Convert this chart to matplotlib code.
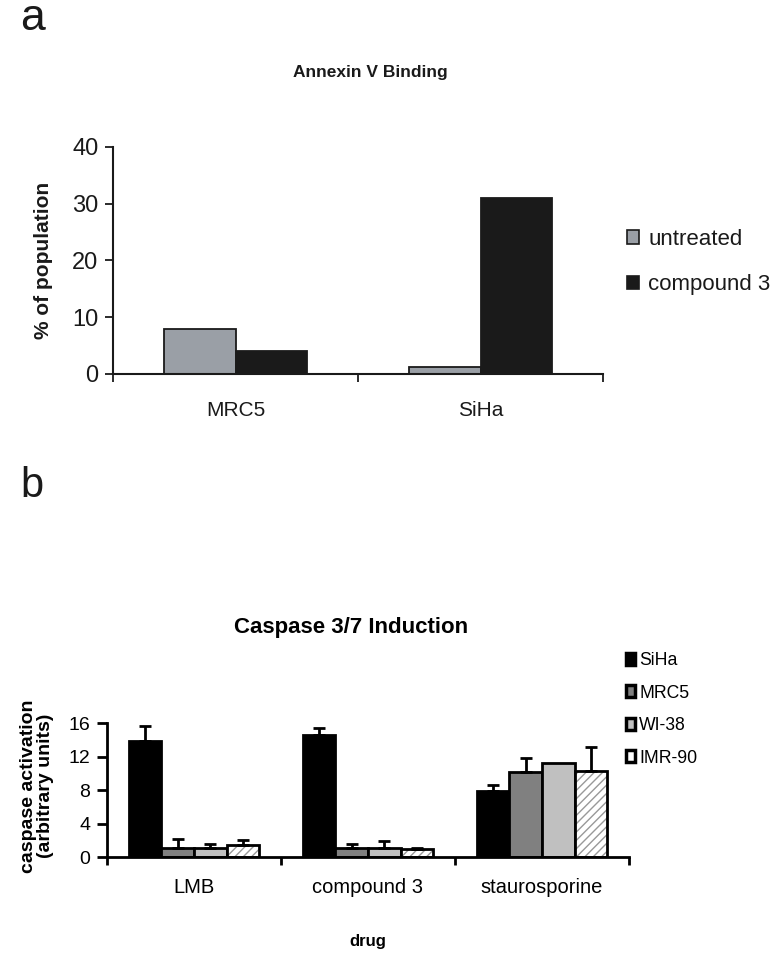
import numpy as np
import matplotlib
matplotlib.use("Agg")
import matplotlib.pyplot as plt
from matplotlib.patches import Patch

plt.rcParams['font.family'] = ['Liberation Sans', 'DejaVu Sans']

# panel a data
cells_a = ['MRC5', 'SiHa']
untreated = [8.0, 1.2]
compound3 = [4.0, 31.0]

# panel b data
drugs = ['LMB', 'compound 3', 'staurosporine']
lines_b = ['SiHa', 'MRC5', 'WI-38', 'IMR-90']
vals_b = {
    'SiHa':   [13.8, 14.6, 7.9],
    'MRC5':   [1.1, 1.1, 10.2],
    'WI-38':  [1.1, 1.1, 11.2],
    'IMR-90': [1.4, 0.9, 10.3],
}
errs_b = {
    'SiHa':   [1.8, 0.8, 0.7],
    'MRC5':   [1.0, 0.5, 1.6],
    'WI-38':  [0.5, 0.8, np.nan],
    'IMR-90': [0.6, 0.15, 2.8],
}

fig = plt.figure(figsize=(7.8, 9.63), dpi=100)

# ---------- panel a ----------
ax1 = fig.add_axes([113/780, 1-374/963, 490/780, 227/963])
x = np.arange(len(cells_a))
w = 0.29
ax1.bar(x - w/2, untreated, w, color='#9a9fa6', edgecolor='#1a1a1a', lw=1.3)
ax1.bar(x + w/2, compound3, w, color='#1a1a1a', edgecolor='#1a1a1a', lw=1.3)
ax1.set_xlim(-0.5, 1.5)
ax1.set_ylim(0, 40)
ax1.set_yticks([0, 10, 20, 30, 40])
ax1.set_xticks([-0.5, 0.5, 1.5])
ax1.set_xticklabels([])
ax1.tick_params(axis='y', labelsize=17, length=5.5, width=1.3, colors='#1a1a1a', pad=5)
ax1.tick_params(axis='x', length=6, width=1.3, colors='#1a1a1a')
for i, c in enumerate(cells_a):
    ax1.text(x[i], -6.5, c, ha='center', va='center', fontsize=15, color='#1a1a1a')
for s in ['top', 'right']:
    ax1.spines[s].set_visible(False)
for s in ['left', 'bottom']:
    ax1.spines[s].set_linewidth(1.5)
    ax1.spines[s].set_color('#1a1a1a')
ax1.set_ylabel('% of population', fontsize=15, fontweight='bold', labelpad=14, color='#1a1a1a')
fig.text(370/780, 1-72/963, 'Annexin V Binding', ha='center', va='center',
         fontsize=12.5, fontweight='bold', color='#1a1a1a')
fig.legend(handles=[Patch(facecolor='#9a9fa6', edgecolor='#1a1a1a', lw=1.2),
                    Patch(facecolor='#1a1a1a', edgecolor='#1a1a1a', lw=1.2)],
           labels=['untreated', 'compound 3'], loc='upper left',
           bbox_to_anchor=(627/780, 1-229/963), frameon=False, fontsize=16,
           handlelength=0.55, handleheight=0.55, handletextpad=0.4,
           labelspacing=1.1, borderpad=0, borderaxespad=0, labelcolor='#1a1a1a')

fig.text(20/780, 1-19/963, 'a', fontsize=32, ha='left', va='center', color='#1a1a1a')
fig.text(20/780, 1-486/963, 'b', fontsize=30, ha='left', va='center', color='#1a1a1a')

# ---------- panel b ----------
ax2 = fig.add_axes([107/780, 1-857/963, 522/780, 134/963])
xb = np.arange(len(drugs))
wb = 0.187
colors_b = {'SiHa': 'black', 'MRC5': '#808080', 'WI-38': '#c0c0c0', 'IMR-90': 'white'}
for j, ln in enumerate(lines_b):
    pos = xb + (j - 1.5) * wb
    if ln == 'IMR-90':
        ax2.bar(pos, vals_b[ln], wb, color='white', edgecolor='#999999', hatch='////', lw=0)
        ax2.bar(pos, vals_b[ln], wb, fill=False, edgecolor='black', lw=2)
    else:
        ax2.bar(pos, vals_b[ln], wb, color=colors_b[ln], edgecolor='black', lw=2)
    e = np.array(errs_b[ln])
    ok = ~np.isnan(e)
    ax2.errorbar(pos[ok], np.array(vals_b[ln])[ok], yerr=[np.zeros(ok.sum()), e[ok]],
                 fmt='none', ecolor='black', elinewidth=2, capsize=4, capthick=2)
ax2.set_xlim(-0.5, 2.5)
ax2.set_ylim(0, 16)
ax2.set_yticks([0, 4, 8, 12, 16])
ax2.set_xticks([-0.5, 0.5, 1.5, 2.5])
ax2.set_xticklabels([])
ax2.tick_params(axis='y', labelsize=14, length=7, width=2, pad=5)
ax2.tick_params(axis='x', length=6, width=2)
for i, d in enumerate(drugs):
    ax2.text(xb[i], -3.6, d, ha='center', va='center', fontsize=14.5)
for s in ['top', 'right']:
    ax2.spines[s].set_visible(False)
for s in ['left', 'bottom']:
    ax2.spines[s].set_linewidth(2)
fig.text(37/780, 1-786/963, 'caspase activation\n(arbitrary units)', rotation=90,
         ha='center', va='center', fontsize=14, fontweight='bold', linespacing=1.0)
fig.text(351/780, 1-627/963, 'Caspase 3/7 Induction', ha='center', va='center',
         fontsize=16, fontweight='bold')
fig.text(368/780, 1-941/963, 'drug', ha='center', va='center',
         fontsize=12, fontweight='bold')
hb = []
for ln in lines_b:
    if ln == 'IMR-90':
        hb.append(Patch(facecolor='white', edgecolor='black', lw=2.5))
    elif ln == 'SiHa':
        hb.append(Patch(facecolor='black', edgecolor='black', lw=2.5))
    else:
        hb.append(Patch(facecolor=colors_b[ln], edgecolor='black', lw=2.5))
fig.legend(handles=hb, labels=lines_b, loc='upper left',
           bbox_to_anchor=(626/780, 1-652/963), frameon=False, fontsize=12.7,
           handlelength=0.5, handleheight=0.65, handletextpad=0.25,
           labelspacing=0.88, borderpad=0, borderaxespad=0)

fig.savefig('out.png', dpi=100)
